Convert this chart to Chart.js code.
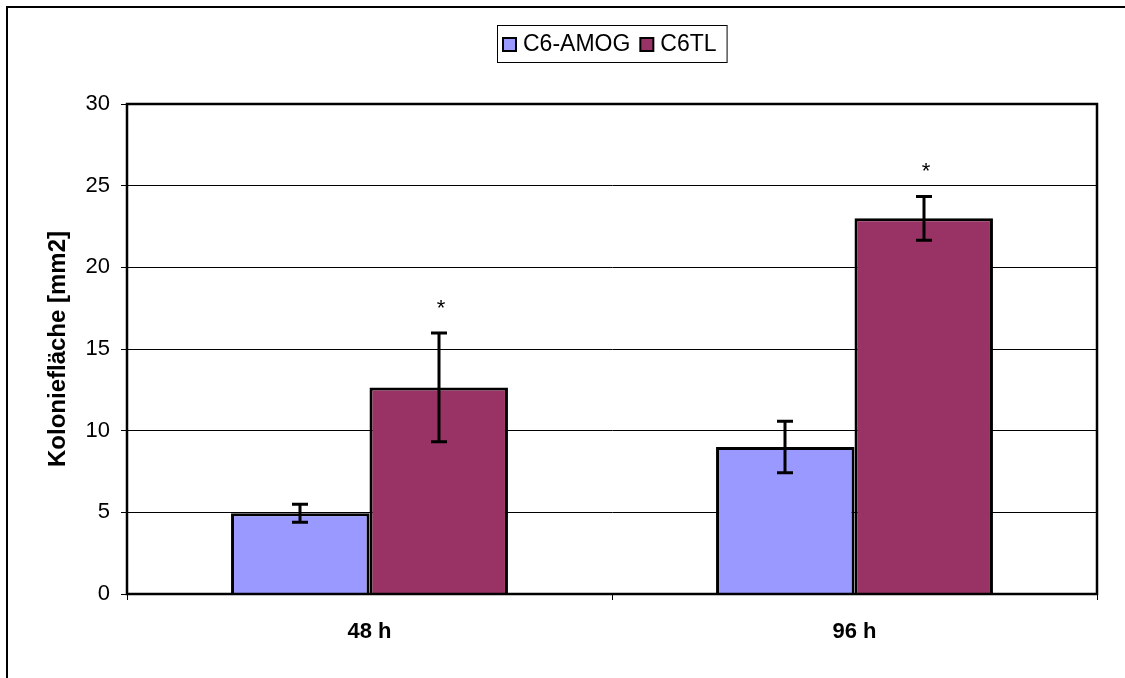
<!DOCTYPE html>
<html lang="de">
<head>
    <meta charset="UTF-8">
    <title>Koloniefläche</title>
    <script src="https://cdn.jsdelivr.net/npm/chart.js"></script>
    <style>
        body {
            margin: 0;
            padding: 0;
            background: #fff;
        }
        .wrap {
            width: 1125px;
            height: 678px;
            position: relative;
        }
    </style>
</head>
<body>
    <div class="wrap">
        <canvas id="chart"></canvas>
    </div>

    <script>
        // data
        const categories = ['48 h', '96 h'];
        const seriesNames = ['C6-AMOG', 'C6TL'];
        const amogValues = [4.95, 9.0];
        const amogErrors = [0.55, 1.57];
        const tlValues = [12.65, 23.0];
        const tlErrors = [3.33, 1.34];
        const amogSig = ['', ''];
        const tlSig = ['*', '*'];
        const yTicks = [0, 5, 10, 15, 20, 25, 30];

        const FONT = "'Liberation Sans', Arial, sans-serif";

        // frame around the whole picture (right/bottom edges fall outside)
        const framePlugin = {
            id: 'frame',
            beforeDraw(chart) {
                const ctx = chart.ctx;
                ctx.save();
                ctx.fillStyle = '#fff';
                ctx.fillRect(0, 0, chart.width, chart.height);
                ctx.strokeStyle = '#000';
                ctx.lineWidth = 2;
                ctx.beginPath();
                ctx.moveTo(7, chart.height + 5);
                ctx.lineTo(7, 7);
                ctx.lineTo(chart.width + 5, 7);
                ctx.stroke();
                ctx.restore();
            }
        };

        // error bars, significance stars, plot border, boxed legend
        const extrasPlugin = {
            id: 'extras',
            afterDatasetsDraw(chart) {
                const ctx = chart.ctx;
                const y = chart.scales.y;
                const area = chart.chartArea;

                ctx.save();
                ctx.strokeStyle = '#000';
                ctx.lineWidth = 2.5;
                ctx.strokeRect(area.left, area.top, area.right - area.left, area.bottom - area.top);

                chart.data.datasets.forEach((ds, di) => {
                    const meta = chart.getDatasetMeta(di);
                    meta.data.forEach((bar, i) => {
                        const v = ds.data[i];
                        const e = ds.errors[i];
                        const top = y.getPixelForValue(v + e);
                        const bot = y.getPixelForValue(v - e);
                        const x = Math.round(bar.x);
                        ctx.lineWidth = 3;
                        ctx.beginPath();
                        ctx.moveTo(x, top);
                        ctx.lineTo(x, bot);
                        ctx.moveTo(x - 8, top);
                        ctx.lineTo(x + 8, top);
                        ctx.moveTo(x - 8, bot);
                        ctx.lineTo(x + 8, bot);
                        ctx.stroke();

                        if (ds.sig[i]) {
                            ctx.fillStyle = '#000';
                            ctx.font = '22px ' + FONT;
                            ctx.textAlign = 'center';
                            ctx.textBaseline = 'alphabetic';
                            ctx.fillText(ds.sig[i], x + 2, top - 18);
                        }
                    });
                });

                // legend
                ctx.font = '23px ' + FONT;
                ctx.textBaseline = 'middle';
                ctx.textAlign = 'left';
                ctx.lineWidth = 2;
                const ly = 44;
                let lx = 503;
                const boxLeft = 497;
                chart.data.datasets.forEach((ds) => {
                    ctx.fillStyle = ds.backgroundColor;
                    ctx.fillRect(lx, ly - 6, 13, 13);
                    ctx.strokeRect(lx, ly - 6, 13, 13);
                    ctx.fillStyle = '#000';
                    ctx.fillText(ds.label, lx + 20, ly + 1);
                    lx += 20 + ctx.measureText(ds.label).width + 10;
                });
                ctx.lineWidth = 1;
                ctx.strokeRect(boxLeft + 0.5, 25.5, lx - boxLeft, 37);
                ctx.restore();
            }
        };

        new Chart(document.getElementById('chart'), {
            type: 'bar',
            data: {
                labels: categories,
                datasets: [
                    {
                        label: seriesNames[0],
                        data: amogValues,
                        errors: amogErrors,
                        sig: amogSig,
                        backgroundColor: '#9999FF',
                        borderColor: '#000',
                        borderWidth: 3
                    },
                    {
                        label: seriesNames[1],
                        data: tlValues,
                        errors: tlErrors,
                        sig: tlSig,
                        backgroundColor: '#993366',
                        borderColor: '#000',
                        borderWidth: 3
                    }
                ]
            },
            options: {
                responsive: true,
                maintainAspectRatio: false,
                animation: false,
                datasets: {
                    bar: {
                        categoryPercentage: 0.571,
                        barPercentage: 1
                    }
                },
                layout: {
                    padding: { left: 40, right: 28, top: 104, bottom: 10 }
                },
                plugins: {
                    legend: { display: false },
                    tooltip: { enabled: false }
                },
                scales: {
                    x: {
                        grid: {
                            drawOnChartArea: false,
                            drawTicks: true,
                            tickLength: 6,
                            color: '#000',
                            lineWidth: 1
                        },
                        border: { color: '#000', width: 2 },
                        ticks: {
                            color: '#000',
                            padding: 19,
                            font: { family: FONT, size: 22, weight: 'bold' }
                        },
                        afterFit(scale) { scale.height = 74; }
                    },
                    y: {
                        min: 0,
                        max: 30,
                        afterBuildTicks(scale) {
                            scale.ticks = yTicks.map(v => ({ value: v }));
                        },
                        grid: {
                            color: '#000',
                            lineWidth: 1,
                            drawTicks: true,
                            tickLength: 6
                        },
                        border: { color: '#000', width: 2 },
                        ticks: {
                            color: '#000',
                            padding: 11,
                            font: { family: FONT, size: 22 }
                        },
                        title: {
                            display: true,
                            text: 'Koloniefläche [mm2]',
                            color: '#000',
                            padding: { top: 4, bottom: 0 },
                            font: { family: FONT, size: 24, weight: 'bold' }
                        },
                        afterFit(scale) { scale.width = 87; }
                    }
                }
            },
            plugins: [framePlugin, extrasPlugin]
        });
    </script>
</body>
</html>
